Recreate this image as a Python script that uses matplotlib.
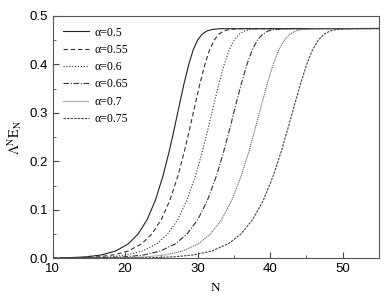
import matplotlib
matplotlib.use("Agg")
import matplotlib.pyplot as plt
from matplotlib.ticker import MultipleLocator

# value levels shared by every curve, and the N where each curve reaches them
levels = [0.0, 0.001, 0.003, 0.007, 0.015, 0.03, 0.05, 0.08, 0.12, 0.17, 0.22,
          0.27, 0.32, 0.36, 0.40, 0.43, 0.45, 0.462, 0.469, 0.472, 0.4735, 0.474]

n_05 = [10, 11.93, 14.66, 16.78, 18.70, 20.47, 21.79, 23.05, 24.19, 25.23, 26.08,
        26.83, 27.54, 28.13, 28.79, 29.40, 30.00, 30.6, 31.3, 32.0, 33.0, 55]
n_055 = [10, 13.36, 16.22, 18.44, 20.45, 22.30, 23.69, 25.00, 26.19, 27.29, 28.17,
         28.96, 29.71, 30.32, 31.01, 31.65, 32.30, 32.9, 33.6, 34.4, 35.5, 55]
n_06 = [10, 14.85, 17.91, 20.27, 22.41, 24.39, 25.87, 27.27, 28.54, 29.71, 30.65,
        31.49, 32.29, 32.94, 33.68, 34.36, 35.05, 35.7, 36.5, 37.3, 38.5, 55]
n_065 = [10, 16.87, 20.11, 22.61, 24.88, 26.97, 28.54, 30.03, 31.37, 32.60, 33.60,
         34.49, 35.33, 36.03, 36.81, 37.54, 38.25, 38.95, 39.75, 40.6, 41.9, 55]
n_07 = [10, 19.57, 22.95, 25.57, 27.94, 30.13, 31.77, 33.33, 34.73, 36.02, 37.07,
        37.99, 38.88, 39.61, 40.42, 41.18, 41.95, 42.7, 43.5, 44.4, 45.8, 55]
n_075 = [10, 23.18, 26.73, 29.48, 31.96, 34.25, 35.97, 37.61, 39.08, 40.43, 41.53,
         42.50, 43.43, 44.19, 45.05, 45.84, 46.65, 47.4, 48.3, 49.2, 50.7, 55]

labels = ["α=0.5", "α=0.55", "α=0.6", "α=0.65", "α=0.7", "α=0.75"]
series = [n_05, n_055, n_06, n_065, n_07, n_075]
styles = ["-", (0, (4, 2.5)), (0, (1, 1.6)), (0, (5, 1.5, 1, 1.5)),
          (0, (1, 0.8)), (0, (2.2, 1))]
colors = ["#222222", "#333333", "#333333", "#333333", "#666666", "#444444"]

plt.rcParams['mathtext.fontset'] = 'stix'
plt.rcParams['font.family'] = 'Liberation Sans'

fig = plt.figure(figsize=(3.89, 3.0), dpi=100)
ax = fig.add_axes([0.135, 0.139, 0.839, 0.808])

for n, lab, ls, c in zip(series, labels, styles, colors):
    ax.plot(n, levels, linestyle=ls, color=c, linewidth=0.8, label=lab)

ax.set_xlim(10, 55)
ax.set_ylim(0, 0.5)
ax.xaxis.set_major_locator(MultipleLocator(10))
ax.xaxis.set_minor_locator(MultipleLocator(5))
ax.yaxis.set_major_locator(MultipleLocator(0.1))
ax.yaxis.set_minor_locator(MultipleLocator(0.05))
ax.tick_params(which='both', direction='in', top=False, right=False,
               color='#444444', labelsize=9.5)
ax.tick_params(which='major', length=4)
ax.tick_params(which='minor', length=2.5)
for s in ax.spines.values():
    s.set_color('#555555')
    s.set_linewidth(0.8)

ax.set_xlabel("N", family='Liberation Serif', fontsize=9.5, labelpad=5)
ax.set_ylabel(r"$\mathrm{\Lambda^{N}E_{N}}$", fontsize=10, labelpad=4)

ax.legend(loc='upper left', frameon=False, prop={'family': 'Liberation Serif', 'size': 8.5},
          handlelength=2.2, handletextpad=0.45, labelspacing=0.45, borderaxespad=0.5)

fig.savefig("out.png", dpi=100)
